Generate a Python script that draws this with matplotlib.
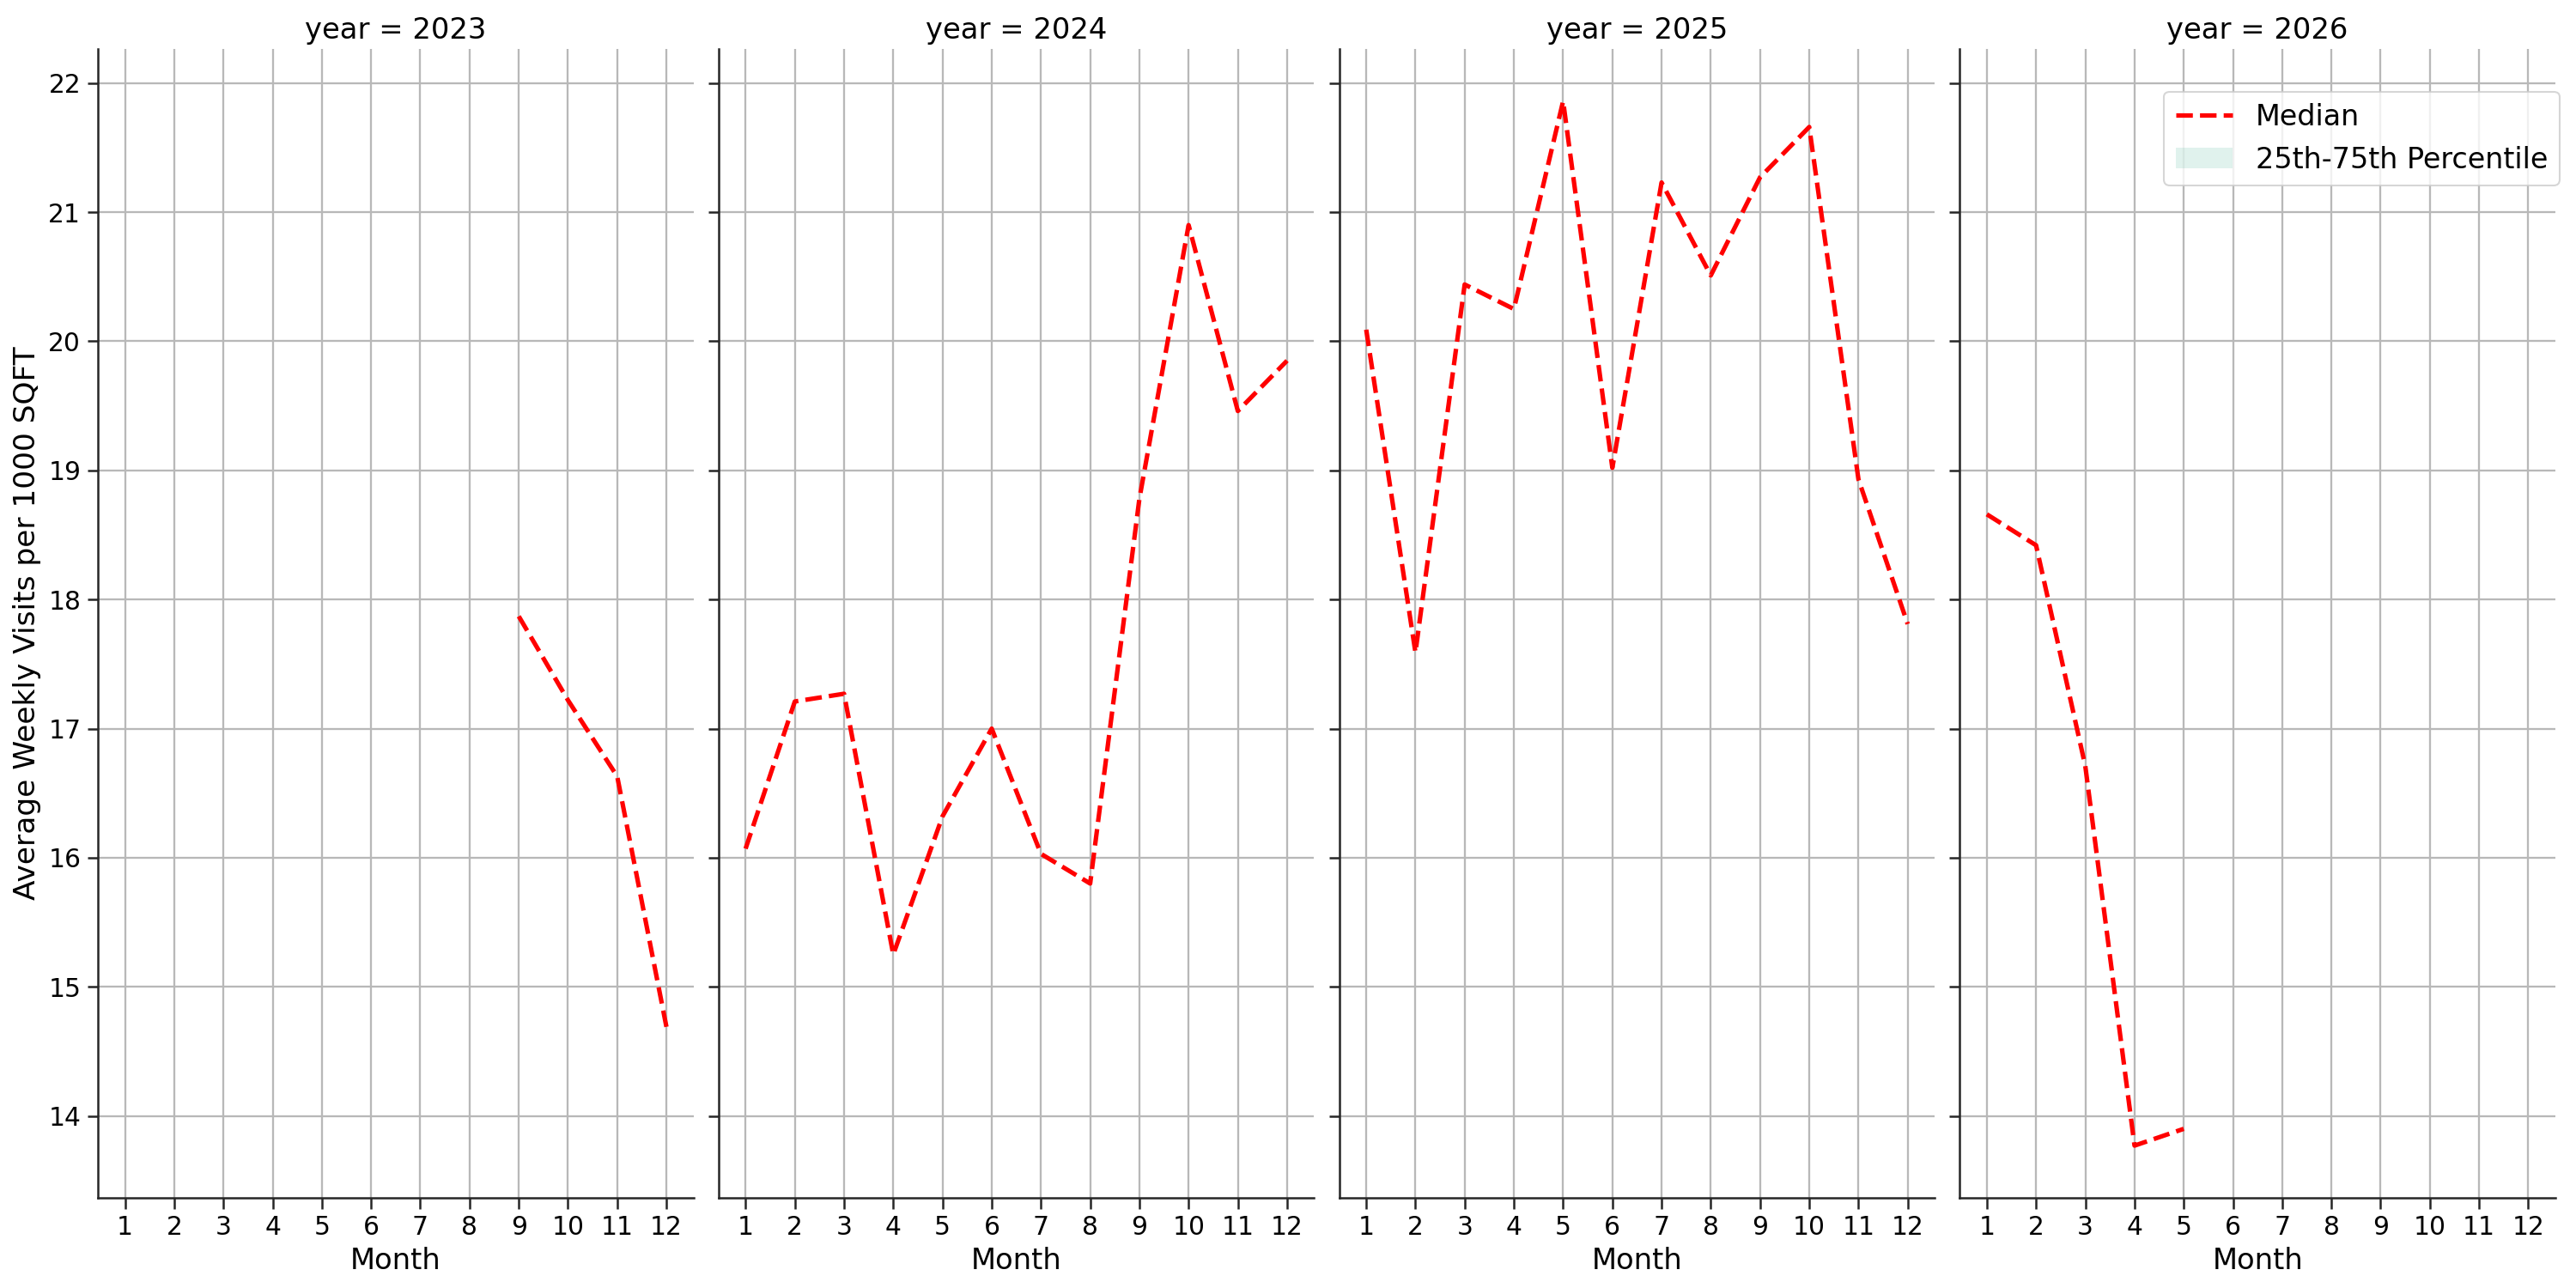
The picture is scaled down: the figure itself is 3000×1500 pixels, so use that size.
"""Monthly median of weekly visits per 1000 sqft, one panel per year."""
import matplotlib.pyplot as plt

plt.rcParams.update({"font.size": 14.3, "figure.dpi": 150})

months = list(range(1, 13))
years = [2023, 2024, 2025, 2026]

# median per month, None where there is no data yet
median_2023 = [None] * 8 + [17.87, 17.22, 16.63, 14.69]
median_2024 = [16.07, 17.21, 17.27, 15.25, 16.32, 17.00, 16.03, 15.80,
               18.78, 20.90, 19.46, 19.85]
median_2025 = [20.09, 17.59, 20.44, 20.25, 21.86, 19.02, 21.23, 20.51,
               21.27, 21.66, 18.93, 17.81]
median_2026 = [18.66, 18.42, 16.71, 13.77, 13.90] + [None] * 7

medians = {2023: median_2023, 2024: median_2024, 2025: median_2025, 2026: median_2026}
# percentile band collapses onto the median (one series per month)
p25 = medians
p75 = medians


def panel(ax, year):
    pts = [(m, v) for m, v in zip(months, medians[year]) if v is not None]
    xs = [p[0] for p in pts]
    ys = [p[1] for p in pts]
    lo = [v for v in p25[year] if v is not None]
    hi = [v for v in p75[year] if v is not None]
    ax.plot(xs, ys, color="red", linestyle="--", linewidth=2.5, label="Median")
    ax.fill_between(xs, lo, hi, color="#66c2a5", alpha=0.2, linewidth=0,
                    label="25th-75th Percentile")
    ax.set_title(f"year = {year}", fontsize=16.2)
    ax.set_xlabel("Month", fontsize=16.2)
    ax.set_xticks(months)
    ax.set_xlim(0.45, 12.55)
    ax.grid(True, color="#b8b8b8", linewidth=1.1)
    ax.set_axisbelow(True)
    for side in ("top", "right"):
        ax.spines[side].set_visible(False)
    for side in ("left", "bottom"):
        ax.spines[side].set_color("#262626")
        ax.spines[side].set_linewidth(1.2)
    ax.tick_params(labelsize=14.3, color="#262626", width=1.2, length=6)


fig, axes = plt.subplots(1, 4, figsize=(20, 10), sharey=True)
for ax, yr in zip(axes, years):
    panel(ax, yr)
axes[0].set_ylabel("Average Weekly Visits per 1000 SQFT", fontsize=16.5)
axes[-1].legend(loc="upper right", bbox_to_anchor=(1.007, 0.963),
                borderaxespad=0, fontsize=16)
fig.subplots_adjust(left=0.038, right=0.992, top=0.962, bottom=0.07, wspace=0.042)
fig.savefig("out.png")
